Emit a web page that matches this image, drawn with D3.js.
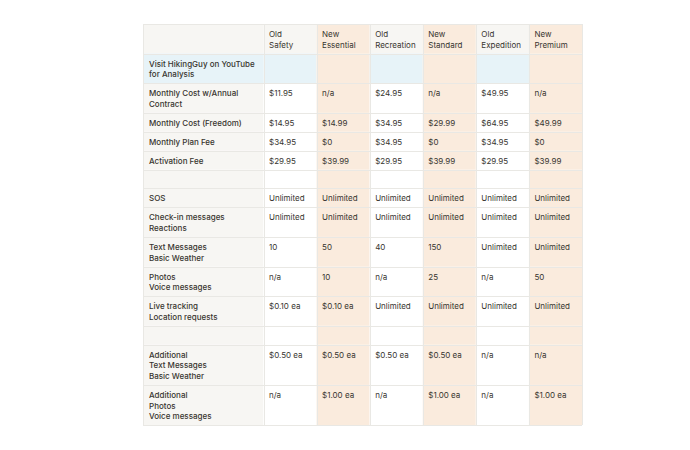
<!DOCTYPE html>
<html>
<head>
<meta charset="utf-8">
<script src="https://cdn.jsdelivr.net/npm/d3@7"></script>
<style>
  html, body { margin: 0; padding: 0; background: #ffffff; }
  svg { display: block; }
  text { font-family: "Inter", "Liberation Sans", Arial, sans-serif; }
</style>
</head>
<body>
<svg id="chart" width="690" height="450"></svg>
<script>
// ---- data ----
const plans = ["Old\nSafety", "New\nEssential", "Old\nRecreation", "New\nStandard", "Old\nExpedition", "New\nPremium"];
const planIsNew = [false, true, false, true, false, true];
const rowLabels = [
  "Visit HikingGuy on YouTube\nfor Analysis",
  "Monthly Cost w/Annual\nContract",
  "Monthly Cost (Freedom)",
  "Monthly Plan Fee",
  "Activation Fee",
  "",
  "SOS",
  "Check-in messages\nReactions",
  "Text Messages\nBasic Weather",
  "Photos\nVoice messages",
  "Live tracking\nLocation requests",
  "",
  "Additional\nText Messages\nBasic Weather",
  "Additional\nPhotos\nVoice messages"
];
const oldSafety    = ["", "$11.95", "$14.95", "$34.95", "$29.95", "", "Unlimited", "Unlimited", "10", "n/a", "$0.10 ea", "", "$0.50 ea", "n/a"];
const newEssential = ["", "n/a", "$14.99", "$0", "$39.99", "", "Unlimited", "Unlimited", "50", "10", "$0.10 ea", "", "$0.50 ea", "$1.00 ea"];
const oldRecreation= ["", "$24.95", "$34.95", "$34.95", "$29.95", "", "Unlimited", "Unlimited", "40", "n/a", "Unlimited", "", "$0.50 ea", "n/a"];
const newStandard  = ["", "n/a", "$29.99", "$0", "$39.99", "", "Unlimited", "Unlimited", "150", "25", "Unlimited", "", "$0.50 ea", "$1.00 ea"];
const oldExpedition= ["", "$49.95", "$64.95", "$34.95", "$29.95", "", "Unlimited", "Unlimited", "Unlimited", "n/a", "Unlimited", "", "n/a", "n/a"];
const newPremium   = ["", "n/a", "$49.99", "$0", "$39.99", "", "Unlimited", "Unlimited", "Unlimited", "50", "Unlimited", "", "n/a", "$1.00 ea"];
const series = [oldSafety, newEssential, oldRecreation, newStandard, oldExpedition, newPremium];
const highlightRow = 0; // "Visit HikingGuy" row tinted blue

// ---- layout ----
const svg = d3.select("#chart");
const tLeft = 143, labelW = 120.5, tRight = 582, tTop = 24;
const lineH = 10.7, padV = 8.2;
const colors = { gray: "#f7f6f3", beige: "#faebdd", blue: "#e7f3f8", white: "#ffffff", border: "#e9e8e4", text: "#37352f" };

const x = d3.scaleBand().domain(d3.range(plans.length)).range([tLeft + labelW, tRight]).paddingInner(0).paddingOuter(0);

const nLines = s => s === "" ? 1 : s.split("\n").length;
const headerH = padV + lineH * 2;
const rowH = rowLabels.map((lab, i) => {
  const n = Math.max(nLines(lab), ...series.map(s => nLines(s[i])));
  return padV + lineH * n;
});
const rowY = [];
let acc = tTop + headerH;
rowH.forEach(h => { rowY.push(acc); acc += h; });
const tBottom = acc;
const y = d3.scaleOrdinal().domain(d3.range(rowLabels.length)).range(rowY);

function cellBg(col, row) {
  if (col < 0) return row === highlightRow ? colors.blue : colors.gray;
  if (planIsNew[col]) return colors.beige;
  if (row === highlightRow) return colors.blue;
  return colors.white;
}

function drawText(g, str, tx, ty, weight) {
  const t = g.append("text")
    .attr("x", tx).attr("y", ty)
    .attr("font-size", 8)
    .attr("font-weight", weight)
    .attr("fill", colors.text);
  str.split("\n").forEach((ln, k) => {
    t.append("tspan").attr("x", tx).attr("dy", k === 0 ? 0 : lineH).text(ln);
  });
}

// header backgrounds
const gBg = svg.append("g");
gBg.append("rect").attr("x", tLeft).attr("y", tTop).attr("width", labelW).attr("height", headerH).attr("fill", colors.gray);
plans.forEach((p, c) => {
  gBg.append("rect").attr("x", x(c)).attr("y", tTop).attr("width", x.bandwidth()).attr("height", headerH)
    .attr("fill", planIsNew[c] ? colors.beige : colors.gray);
});
// body backgrounds
rowLabels.forEach((lab, r) => {
  gBg.append("rect").attr("x", tLeft).attr("y", y(r)).attr("width", labelW).attr("height", rowH[r]).attr("fill", cellBg(-1, r));
  series.forEach((s, c) => {
    gBg.append("rect").attr("x", x(c)).attr("y", y(r)).attr("width", x.bandwidth()).attr("height", rowH[r]).attr("fill", cellBg(c, r));
  });
});

// grid lines
const gGrid = svg.append("g").attr("stroke", colors.border).attr("stroke-width", 1).attr("shape-rendering", "crispEdges");
const hLines = [tTop, tTop + headerH, ...rowY.slice(1), tBottom];
hLines.forEach(yy => gGrid.append("line").attr("x1", tLeft).attr("x2", tRight).attr("y1", Math.round(yy) + 0.5).attr("y2", Math.round(yy) + 0.5));
const vLines = [tLeft, ...d3.range(plans.length).map(c => x(c)), tRight];
vLines.forEach(xx => gGrid.append("line").attr("y1", tTop).attr("y2", tBottom).attr("x1", Math.round(xx) + 0.5).attr("x2", Math.round(xx) + 0.5));

// text
const gText = svg.append("g");
const baseOff = 13;
plans.forEach((p, c) => drawText(gText, p, x(c) + 5.5, tTop + baseOff, 400));
rowLabels.forEach((lab, r) => {
  if (lab) drawText(gText, lab, tLeft + 6, y(r) + baseOff, 500);
  series.forEach((s, c) => { if (s[r]) drawText(gText, s[r], x(c) + 5.5, y(r) + baseOff, 400); });
});
</script>
</body>
</html>
